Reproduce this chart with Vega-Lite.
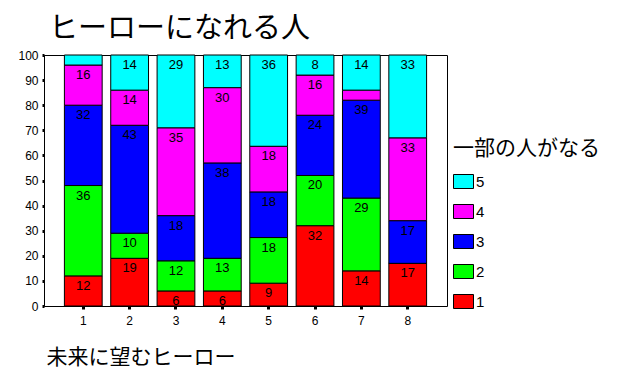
{
  "$schema": "https://vega.github.io/schema/vega-lite/v6.json",
  "width": 403,
  "height": 251,
  "autosize": {"type": "none"},
  "padding": {"left": 44, "top": 55, "right": 174, "bottom": 67},
  "background": "white",
  "config": {
    "view": {"stroke": "black", "strokeWidth": 1},
    "font": "Liberation Sans",
    "axis": {"grid": false, "domainColor": "black", "tickColor": "black", "labelColor": "black", "labelFont": "Liberation Sans", "labelFontSize": 12}
  },
  "title": {
    "text": "ヒーローになれる人",
    "anchor": "start",
    "frame": "group",
    "font": "Noto Sans CJK JP",
    "fontSize": 29,
    "fontWeight": "normal",
    "color": "black",
    "dx": 5,
    "offset": 5
  },
  "data": {
    "values": [
      {"cat": "1", "series": "1", "value": 12}, {"cat": "1", "series": "2", "value": 36}, {"cat": "1", "series": "3", "value": 32}, {"cat": "1", "series": "4", "value": 16}, {"cat": "1", "series": "5", "value": 4},
      {"cat": "2", "series": "1", "value": 19}, {"cat": "2", "series": "2", "value": 10}, {"cat": "2", "series": "3", "value": 43}, {"cat": "2", "series": "4", "value": 14}, {"cat": "2", "series": "5", "value": 14},
      {"cat": "3", "series": "1", "value": 6}, {"cat": "3", "series": "2", "value": 12}, {"cat": "3", "series": "3", "value": 18}, {"cat": "3", "series": "4", "value": 35}, {"cat": "3", "series": "5", "value": 29},
      {"cat": "4", "series": "1", "value": 6}, {"cat": "4", "series": "2", "value": 13}, {"cat": "4", "series": "3", "value": 38}, {"cat": "4", "series": "4", "value": 30}, {"cat": "4", "series": "5", "value": 13},
      {"cat": "5", "series": "1", "value": 9}, {"cat": "5", "series": "2", "value": 18}, {"cat": "5", "series": "3", "value": 18}, {"cat": "5", "series": "4", "value": 18}, {"cat": "5", "series": "5", "value": 36},
      {"cat": "6", "series": "1", "value": 32}, {"cat": "6", "series": "2", "value": 20}, {"cat": "6", "series": "3", "value": 24}, {"cat": "6", "series": "4", "value": 16}, {"cat": "6", "series": "5", "value": 8},
      {"cat": "7", "series": "1", "value": 14}, {"cat": "7", "series": "2", "value": 29}, {"cat": "7", "series": "3", "value": 39}, {"cat": "7", "series": "4", "value": 4}, {"cat": "7", "series": "5", "value": 14},
      {"cat": "8", "series": "1", "value": 17}, {"cat": "8", "series": "2", "value": 0}, {"cat": "8", "series": "3", "value": 17}, {"cat": "8", "series": "4", "value": 33}, {"cat": "8", "series": "5", "value": 33}
    ]
  },
  "transform": [
    {"stack": "value", "groupby": ["cat"], "sort": [{"field": "series", "order": "ascending"}], "offset": "normalize", "as": ["y0", "y1"]}
  ],
  "encoding": {
    "x": {
      "field": "cat", "type": "ordinal",
      "scale": {"paddingInner": 0.185, "paddingOuter": 0.44},
      "axis": {
        "labelAngle": 0, "tickSize": 3, "tickWidth": 3, "labelPadding": 6, "domain": false,
        "title": "未来に望むヒーロー", "titleFont": "Noto Sans CJK JP", "titleFontSize": 21, "titleFontWeight": "normal", "titleColor": "black",
        "titleAnchor": "start", "titleAlign": "left", "titleBaseline": "middle", "titleX": 2, "titleY": 51
      }
    },
    "y": {
      "field": "y1", "type": "quantitative",
      "scale": {"domain": [0, 1]},
      "axis": {
        "title": null, "values": [0, 0.1, 0.2, 0.3, 0.4, 0.5, 0.6, 0.7, 0.8, 0.9, 1],
        "labelExpr": "round(datum.value*100)", "tickSize": 2, "tickWidth": 3, "labelPadding": 4
      }
    }
  },
  "layer": [
    {
      "mark": {"type": "bar", "stroke": "black", "strokeWidth": 1},
      "encoding": {
        "y2": {"field": "y0"},
        "color": {
          "field": "series", "type": "nominal",
          "scale": {"domain": ["5", "4", "3", "2", "1"], "range": ["#00FFFF", "#FF00FF", "#0000FF", "#00FF00", "#FF0000"]},
          "legend": {
            "orient": "none", "legendX": 409, "legendY": 83,
            "title": "一部の人がなる", "titleFont": "Noto Sans CJK JP", "titleFontSize": 21, "titleFontWeight": "normal", "titleColor": "black", "titlePadding": 12,
            "symbolType": "M-1,-0.7H1V0.7H-1Z", "symbolSize": 400, "symbolStrokeColor": "black", "symbolStrokeWidth": 1, "symbolOpacity": 1,
            "labelFontSize": 15, "labelColor": "black", "labelOffset": 2, "rowPadding": 10
          }
        }
      }
    },
    {
      "transform": [{"filter": "datum.value >= 5"}],
      "mark": {"type": "text", "dy": 10, "baseline": "middle", "fontSize": 13, "color": "black"},
      "encoding": {
        "text": {"field": "value", "type": "quantitative"}
      }
    }
  ]
}
